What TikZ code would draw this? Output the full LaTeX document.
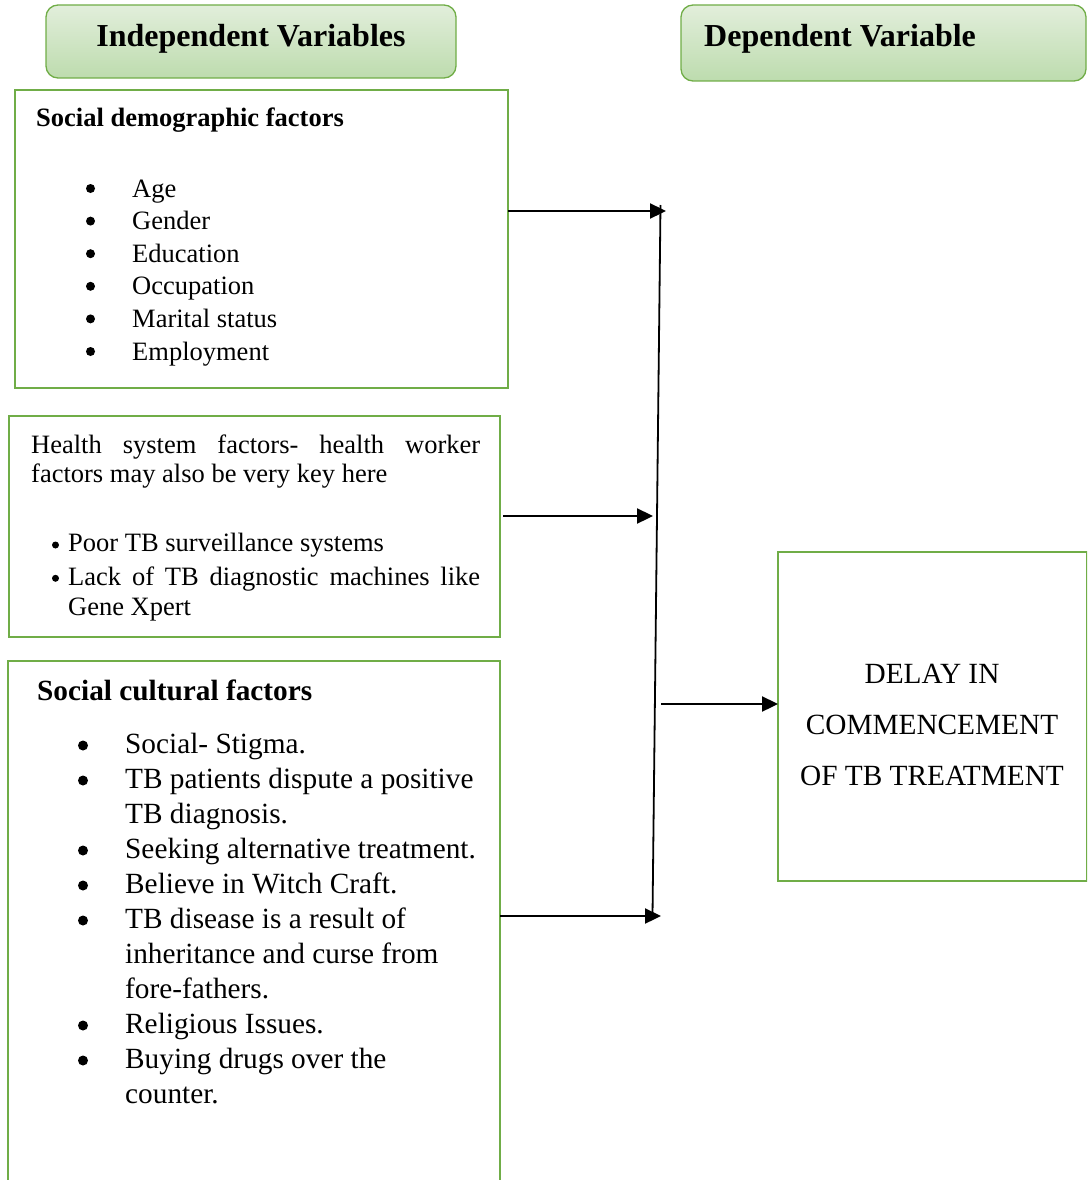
\documentclass[tikz,border=0pt]{standalone}
\usepackage{fontspec}
\setmainfont{Liberation Serif}
\usetikzlibrary{arrows.meta}
\definecolor{gborder}{HTML}{70AD47}
\definecolor{gtop}{HTML}{E2EEDB}
\definecolor{gbot}{HTML}{BDDCAE}
\begin{document}
\begin{tikzpicture}[x=1pt,y=-1pt,
  hdr/.style={draw=gborder, line width=1.3pt, rounded corners=12pt, top color=gtop, bottom color=gbot, anchor=north west, inner sep=0pt, outer sep=0pt},
  frame/.style={draw=gborder, line width=2.5pt, anchor=north west, inner sep=0pt, outer sep=0pt},
  conn/.style={line width=2.3pt, -{Triangle[length=16pt,width=15pt]}},
  vline/.style={line width=1.8pt},
  dot/.style={circle, fill=black, inner sep=0pt, minimum size=#1},
  txt/.style={anchor=base west, inner sep=0pt},
  fA/.style={font=\fontsize{26.5}{29}\selectfont},
  fB/.style={font=\fontsize{29.3}{33}\selectfont},
  hfont/.style={font=\fontsize{32}{36}\selectfont\bfseries}
]
\useasboundingbox (0,0) rectangle (1087,1180);
\clip (0,0) rectangle (1087,1180);

% header boxes
\node[hdr, minimum width=410pt, minimum height=73pt] (ivbox) at (46,5) {};
\node[txt, hfont, anchor=base] (ivtext) at (251,47) {Independent Variables};
\node[hdr, minimum width=405pt, minimum height=76pt] (dvbox) at (681,5) {};
\node[txt, hfont] (dvtext) at (704,47) {Dependent Variable};

% box 1
\node[frame, minimum width=493pt, minimum height=298pt] (sd) at (15,90) {};
\node[txt, fA, font=\fontsize{26.5}{29}\selectfont\bfseries] (sdtitle) at (36,127) {Social demographic factors};
\foreach \ty/\tx [count=\i] in {197/Age, 229.6/Gender, 262.2/Education, 294.8/Occupation, 327.4/Marital status, 360/Employment}{
  \node[dot=9pt] (sdb\i) at (90.5,\ty-8.5) {};
  \node[txt, fA] (sdi\i) at (132,\ty) {\tx};
}

% box 2
\node[frame, minimum width=491pt, minimum height=221pt] (hs) at (9,416) {};
\node[txt, fA] (hs1) at (31,453) {\makebox[449pt][s]{Health system factors- health worker}};
\node[txt, fA] (hs2) at (31,482) {factors may also be very key here};
\node[dot=7pt] (hsb1) at (55.5,545) {};
\node[txt, fA] (hs3) at (68,551.7) {Poor TB surveillance systems};
\node[dot=7pt] (hsb2) at (55.5,578.3) {};
\node[txt, fA] (hs4) at (68,585) {\makebox[412pt][s]{Lack of TB diagnostic machines like}};
\node[txt, fA] (hs5) at (68,615.5) {Gene Xpert};

% box 3
\node[frame, minimum width=492pt, minimum height=540pt] (sc) at (8,661) {};
\node[txt, font=\fontsize{29.3}{33}\selectfont\bfseries] (sctitle) at (37,700) {Social cultural factors};
\foreach \ty/\tx [count=\i] in {753/Social- Stigma., 788/TB patients dispute a positive, 823/TB diagnosis., 858/Seeking alternative treatment., 893/Believe in Witch Craft., 928/TB disease is a result of, 963/inheritance and curse from, 998/fore-fathers., 1033/Religious Issues., 1068/Buying drugs over the, 1103/counter.}{
  \node[txt, fB] (sci\i) at (125,\ty) {\tx};
}
\foreach \ty [count=\i] in {753, 788, 858, 893, 928, 1033, 1068}{
  \node[dot=10pt] (scb\i) at (83,\ty-7.5) {};
}

% dependent box
\node[frame, minimum width=309pt, minimum height=329pt] (delay) at (778,552) {};
\node[anchor=base, inner sep=0pt, fB] (d1) at (932,683) {DELAY IN};
\node[anchor=base, inner sep=0pt, fB] (d2) at (932,734) {COMMENCEMENT};
\node[anchor=base, inner sep=0pt, fB] (d3) at (932,785) {OF TB TREATMENT};

% connectors
\coordinate (vtop) at (660.5,205);
\coordinate (vbot) at (652.5,916);
\coordinate (t1) at (666,211);
\coordinate (t2) at (653,516);
\coordinate (t3) at (661,916);
\coordinate (s4) at (661,704);
\draw[vline] (vtop) -- (vbot);
\draw[conn] (sd.east |- t1) -- (t1);
\draw[conn] (t2 -| hs.east) ++(3,0) -- (t2);
\draw[conn] (sc.east |- t3) -- (t3);
\draw[conn] (s4) -- (delay.west |- s4);
\end{tikzpicture}
\end{document}
